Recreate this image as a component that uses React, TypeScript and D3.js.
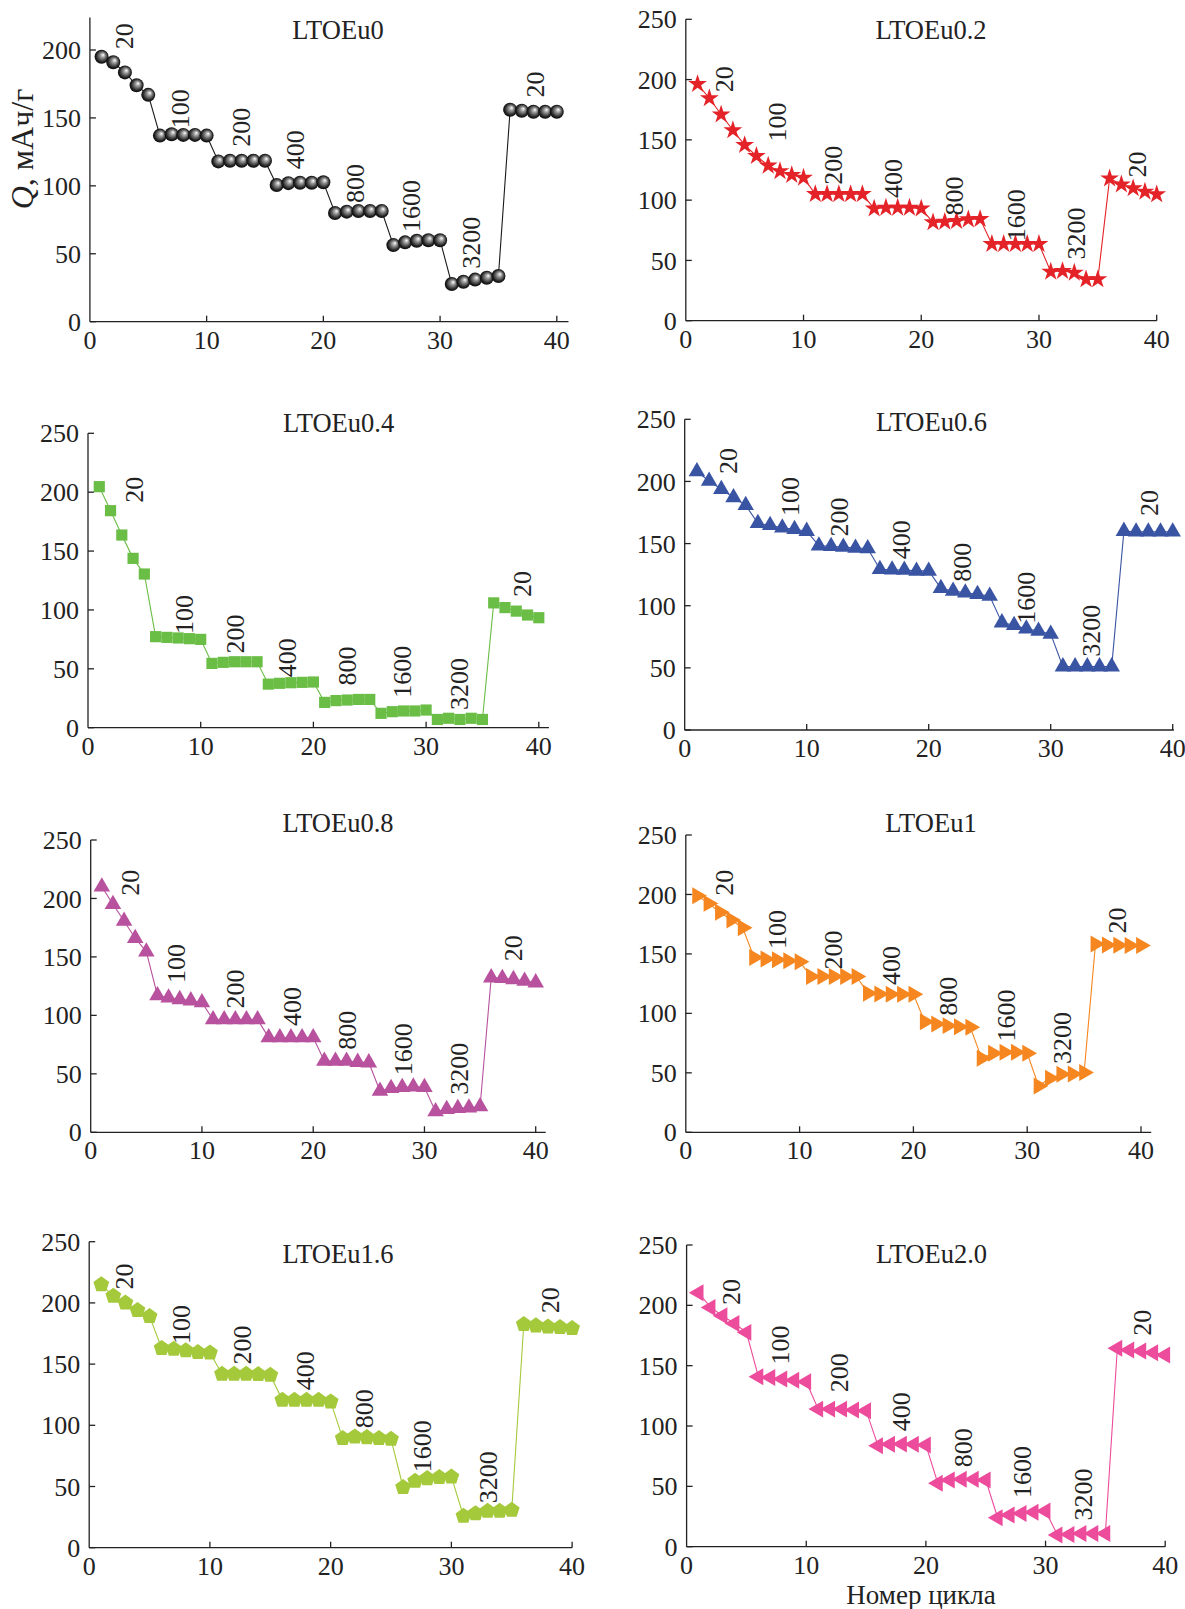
import { useEffect, useRef } from "react";
import * as d3 from "d3";

const cycles = [
  1, 2, 3, 4, 5, 6, 7, 8, 9, 10, 11, 12, 13, 14, 15, 16, 17, 18, 19, 20,
  21, 22, 23, 24, 25, 26, 27, 28, 29, 30, 31, 32, 33, 34, 35, 36, 37, 38, 39, 40,
];
const rates = ["20", "100", "200", "400", "800", "1600", "3200", "20"];
const xTicks = [0, 10, 20, 30, 40];
const yTicksShort = [0, 50, 100, 150, 200];
const yTicks = [0, 50, 100, 150, 200, 250];

// Q, mAh/g per cycle
const qEu0 = [195, 191, 183.5, 174, 167, 137, 138, 137.5, 137.5, 137, 118, 118.5, 118.5, 118.5, 118.5, 100.6, 102, 102.3, 102.3, 102.6, 80, 81, 81.5, 81.5, 81.5, 56.4, 58.4, 59.6, 60, 60, 27.7, 29.4, 31, 32.4, 33.6, 156, 155.3, 154.6, 154.6, 154.6];
const qEu02 = [196.3, 184.5, 171, 158, 145.7, 136.6, 128.6, 124, 120.8, 118.6, 105, 105, 105, 105, 105, 93, 93.7, 93.7, 93.7, 93, 81.6, 82, 82.7, 84, 84.3, 63.6, 63.6, 63.6, 63.6, 63.6, 40.6, 41.2, 39.8, 34.3, 34.3, 118, 113, 109.8, 107, 104.8];
const qEu04 = [204.7, 184.3, 163.6, 143.8, 130.5, 77.3, 76.7, 76.2, 75.6, 75, 54.6, 55.5, 56, 56, 56, 37, 37.7, 38.2, 38.5, 38.8, 21.5, 23, 23.5, 24, 24, 12.2, 13.6, 14.2, 14.2, 15, 7, 8, 7, 8, 7, 106, 102, 99, 95.7, 93.4];
const qEu06 = [208, 200.4, 193.7, 187, 180.8, 166.3, 164.7, 162.8, 161.5, 160, 148.3, 147.8, 147.3, 146.5, 146, 129.3, 129, 128.8, 128, 128, 114, 111.9, 110.5, 109.2, 107.8, 86.4, 84.2, 81.5, 79.7, 77.3, 51, 51, 51, 51, 51, 160, 159.5, 159.5, 159.5, 159.5];
const qEu08 = [210, 195, 180.7, 166, 154.5, 117, 115, 113.7, 112.6, 111, 96.4, 96.5, 96.5, 96.5, 96.4, 81, 81, 81, 81, 81, 61, 61, 61, 60, 59.6, 35.3, 37.6, 38.5, 39, 38.5, 17.7, 19.7, 20.5, 21, 22, 132.3, 131.7, 130.8, 129.4, 128];
const qEu1 = [199, 192.5, 185, 178.5, 172, 147, 145.7, 145, 144.3, 143.5, 131, 131, 131, 131, 131, 117, 116.3, 116, 116, 116, 93, 91, 89.7, 88.8, 88.3, 62.2, 66.4, 67.3, 67.3, 66.4, 39, 45.4, 48.8, 49, 50.2, 158.3, 157.5, 157.3, 157, 157];
const qEu16 = [215, 205.6, 200, 194, 189, 163, 162.3, 161, 159.6, 159.3, 141.9, 141.9, 141.9, 141.6, 141, 120.6, 120.6, 120.6, 120.6, 119.3, 89.3, 90.7, 90.1, 89.3, 88.8, 49.3, 54.5, 56.6, 57.5, 58, 25.9, 28, 30, 30, 30.8, 182.5, 181.4, 180.5, 180, 179.2];
const qEu20 = [210.5, 198.3, 191.4, 185, 177.6, 140.9, 140.3, 139, 138, 136.7, 114, 114, 114, 113.3, 112.7, 83.7, 84.8, 85, 84.8, 84.3, 52.5, 55.2, 55.8, 55.8, 55.2, 24, 26.2, 27.6, 28.5, 29.6, 9.7, 10.2, 11, 11, 11, 164.4, 163, 162.2, 160.8, 158.8];

// where the current-rate labels sit, in [cycle, Q] units (bottom of the rotated text)
const labEu0 = [[2.93, 200.6], [7.68, 142.4], [12.96, 128.8], [17.6, 112.2], [22.7, 87.3], [27.5, 66.1], [32.6, 38.9], [38.1, 165]];
const labEu02 = [[3.27, 189.4], [7.72, 148.6], [12.5, 112.8], [17.57, 101.8], [22.8, 87.3], [28.03, 66], [33.1, 50.7], [38.3, 118.8]];
const labEu04 = [[4.03, 191], [8.49, 79.5], [13.04, 63], [17.68, 42.9], [22.96, 35.9], [27.88, 25.5], [32.88, 15], [38.5, 110.9]];
const labEu06 = [[3.58, 206], [8.63, 172.1], [12.67, 155.6], [17.71, 137.4], [22.76, 119.3], [27.97, 85.5], [33.27, 59], [38.07, 172.1]];
const labEu08 = [[3.56, 202.4], [7.62, 127.8], [12.96, 105.9], [18.04, 90.9], [23.02, 70.7], [28.09, 48.8], [33.07, 32.2], [37.96, 146.2]];
const labEu1 = [[3.38, 199], [7.99, 154.1], [12.94, 136.9], [18, 123.9], [23.04, 98], [28.1, 76.4], [33.05, 57.4], [37.84, 167.1]];
const labEu16 = [[2.9, 210.9], [7.57, 166.4], [12.67, 149.6], [17.85, 128.7], [22.78, 97.6], [27.55, 61.6], [32.99, 36.4], [38.18, 191.6]];
const labEu20 = [[3.67, 200.3], [7.78, 150.9], [12.76, 128], [17.9, 95.7], [23.05, 65.9], [28.03, 40.4], [33.09, 21.7], [38.06, 174.8]];

const FONT = "'Liberation Serif', 'Times New Roman', serif";

// pixel frame of each panel: x of cycle 0 / 40, y of Q 0 / 250, title spot
const panels = [
  { name: "LTOEu0", q: qEu0, lab: labEu0, color: "#1a1a1a", mark: "sphere", l: 89.9, r: 556.8, b: 321.7, t: 321.7 - 250 * (271.7 / 200), xEnd: 41, yTop: 224, ticks: yTicksShort, tx: 338, ty: 39.3 },
  { name: "LTOEu0.2", q: qEu02, lab: labEu02, color: "#e42328", mark: "star", l: 685.8, r: 1156.7, b: 320.7, t: 19.3, xEnd: 40, yTop: 250, ticks: yTicks, tx: 931, ty: 39.3 },
  { name: "LTOEu0.4", q: qEu04, lab: labEu04, color: "#6abd45", mark: "square", l: 88, r: 538.8, b: 727.7, t: 433.3, xEnd: 40.9, yTop: 250, ticks: yTicks, tx: 338.6, ty: 431.7 },
  { name: "LTOEu0.6", q: qEu06, lab: labEu06, color: "#3a54a4", mark: "triUp", l: 684.7, r: 1172.7, b: 730, t: 419.3, xEnd: 40.1, yTop: 250, ticks: yTicks, tx: 931.5, ty: 430.7 },
  { name: "LTOEu0.8", q: qEu08, lab: labEu08, color: "#b8519e", mark: "triUp", l: 90.7, r: 535.7, b: 1132.3, t: 840, xEnd: 40.9, yTop: 250, ticks: yTicks, tx: 338, ty: 831.7 },
  { name: "LTOEu1", q: qEu1, lab: labEu1, color: "#f6861f", mark: "triRight", l: 685.8, r: 1141, b: 1132.3, t: 835, xEnd: 40.9, yTop: 250, ticks: yTicks, tx: 931, ty: 831.7 },
  { name: "LTOEu1.6", q: qEu16, lab: labEu16, color: "#a4c93a", mark: "pentagon", l: 89.2, r: 572.1, b: 1547.7, t: 1241.7, xEnd: 40, yTop: 250, ticks: yTicks, tx: 338, ty: 1263.3 },
  { name: "LTOEu2.0", q: qEu20, lab: labEu20, color: "#ec4c9b", mark: "triLeft", l: 686.6, r: 1165.2, b: 1546.7, t: 1245, xEnd: 40, yTop: 250, ticks: yTicks, tx: 931.5, ty: 1263.3 },
];

function pentagon(r) {
  const pts = d3.range(5).map((k) => {
    const a = (-90 + 72 * k) * (Math.PI / 180);
    return [r * Math.cos(a), r * Math.sin(a)];
  });
  return "M" + pts.map((p) => p.join(",")).join("L") + "Z";
}

export default function App() {
  const ref = useRef<SVGSVGElement | null>(null);

  useEffect(() => {
    const svg = d3.select(ref.current);
    svg.selectAll("*").remove();

    const defs = svg.append("defs");
    const grad = defs.append("radialGradient").attr("id", "ball").attr("cx", "0.5").attr("cy", "0.5").attr("r", "0.55").attr("fx", "0.62").attr("fy", "0.35");
    grad.append("stop").attr("offset", "0").attr("stop-color", "#ffffff");
    grad.append("stop").attr("offset", "0.3").attr("stop-color", "#9a9a9a");
    grad.append("stop").attr("offset", "0.75").attr("stop-color", "#222");
    grad.append("stop").attr("offset", "1").attr("stop-color", "#000");

    panels.forEach((p) => {
      const x = d3.scaleLinear().domain([0, 40]).range([p.l, p.r]);
      const y = d3.scaleLinear().domain([0, 250]).range([p.b, p.t]);
      const g = svg.append("g");

      // axes
      g.append("line").attr("x1", x(0)).attr("x2", x(0)).attr("y1", y(0)).attr("y2", y(p.yTop)).attr("stroke", "#222").attr("stroke-width", 1.3);
      g.append("line").attr("x1", x(0)).attr("x2", x(p.xEnd)).attr("y1", y(0)).attr("y2", y(0)).attr("stroke", "#222").attr("stroke-width", 1.3);

      p.ticks.forEach((v) => {
        g.append("line").attr("x1", x(0)).attr("x2", x(0) + 6).attr("y1", y(v)).attr("y2", y(v)).attr("stroke", "#222").attr("stroke-width", 1.3);
        g.append("text").attr("x", x(0) - 9).attr("y", y(v)).attr("dy", "0.35em").attr("text-anchor", "end")
          .attr("font-family", FONT).attr("font-size", 26).attr("fill", "#222").text(v);
      });
      xTicks.forEach((v) => {
        if (v > 0) g.append("line").attr("x1", x(v)).attr("x2", x(v)).attr("y1", y(0)).attr("y2", y(0) - 6).attr("stroke", "#222").attr("stroke-width", 1.3);
        g.append("text").attr("x", x(v)).attr("y", y(0) + 27).attr("text-anchor", "middle")
          .attr("font-family", FONT).attr("font-size", 26).attr("fill", "#222").text(v);
      });

      // title
      g.append("text").attr("x", p.tx).attr("y", p.ty).attr("text-anchor", "middle")
        .attr("font-family", FONT).attr("font-size", 26.5).attr("fill", "#222").text(p.name);

      // connecting line
      const line = d3.line<number>().x((_, i) => x(cycles[i])).y((d) => y(d));
      g.append("path").attr("d", line(p.q)).attr("fill", "none").attr("stroke", p.color).attr("stroke-width", 1.1);

      // markers
      const marks = g.append("g");
      p.q.forEach((v, i) => {
        const cx = x(cycles[i]);
        const cy = y(v);
        if (p.mark === "sphere") {
          marks.append("circle").attr("cx", cx).attr("cy", cy).attr("r", 7).attr("fill", "url(#ball)");
        } else {
          let d = "";
          let rot = 0;
          if (p.mark === "star") d = d3.symbol(d3.symbolStar, 110)();
          if (p.mark === "square") d = d3.symbol(d3.symbolSquare, 125)();
          if (p.mark === "triUp") d = d3.symbol(d3.symbolTriangle, 118)();
          if (p.mark === "triRight") { d = d3.symbol(d3.symbolTriangle, 125)(); rot = 90; }
          if (p.mark === "triLeft") { d = d3.symbol(d3.symbolTriangle, 125)(); rot = -90; }
          if (p.mark === "pentagon") d = pentagon(8.3);
          marks.append("path").attr("d", d).attr("transform", `translate(${cx},${cy}) rotate(${rot})`).attr("fill", p.color);
        }
      });

      // rate labels
      p.lab.forEach(([lx, ly], i) => {
        g.append("text").attr("transform", `translate(${x(lx)},${y(ly)}) rotate(-90)`).attr("dy", "0.35em")
          .attr("font-family", FONT).attr("font-size", 26).attr("fill", "#222").text(rates[i]);
      });
    });

    // axis titles
    const yl = svg.append("text").attr("transform", "translate(22,149) rotate(-90)").attr("dy", "0.35em").attr("text-anchor", "middle")
      .attr("font-family", FONT).attr("font-size", 32).attr("fill", "#222");
    yl.append("tspan").attr("font-style", "italic").text("Q");
    yl.append("tspan").text(", мАч/г");

    svg.append("text").attr("x", 921).attr("y", 1604).attr("text-anchor", "middle")
      .attr("font-family", FONT).attr("font-size", 27).attr("fill", "#222").text("Номер цикла");
  }, []);

  return (
    <svg ref={ref} width={1185} height={1609} style={{ position: "absolute", left: 0, top: 0, background: "#fff" }} />
  );
}
